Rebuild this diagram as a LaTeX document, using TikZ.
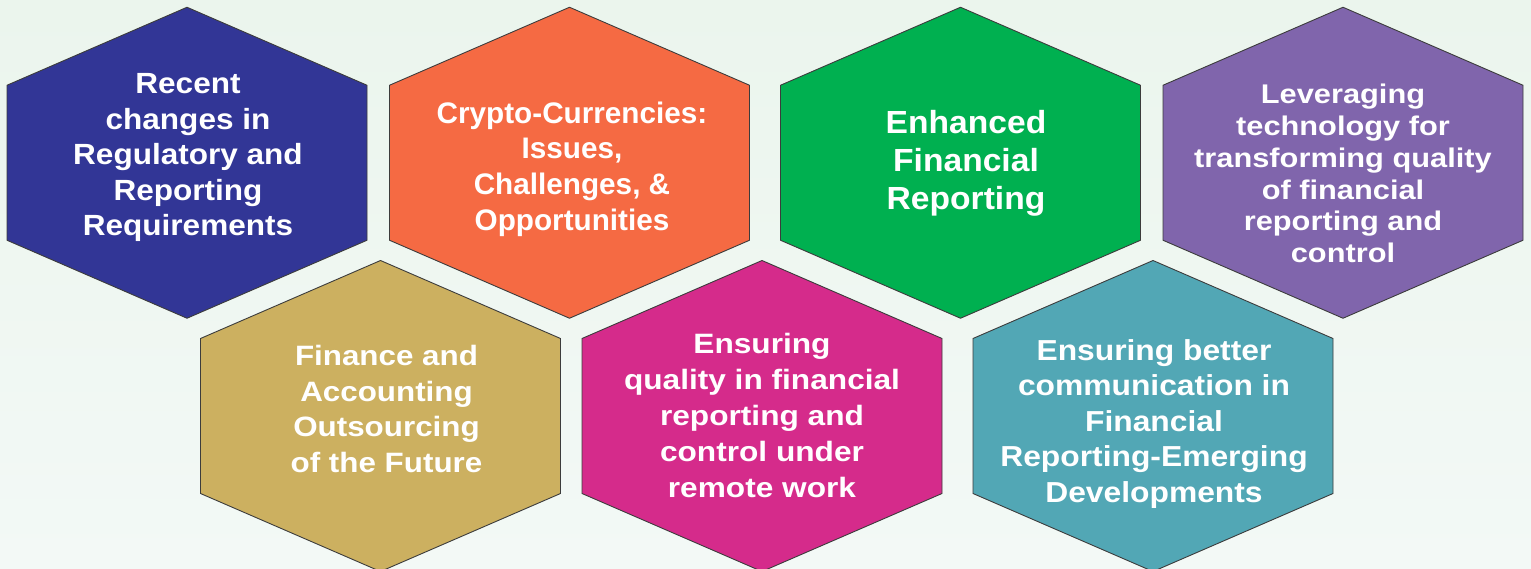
\documentclass[tikz,border=0pt]{standalone}
\usepackage{fontspec}
\setmainfont{Liberation Sans}
\newfontfamily\fblue{Liberation Sans}[FakeStretch=1.08]
\newfontfamily\forange{Liberation Sans}[FakeStretch=1.0]
\newfontfamily\fgreen{Liberation Sans}[FakeStretch=1.05]
\newfontfamily\fpurple{Liberation Sans}[FakeStretch=1.14]
\newfontfamily\fgold{Liberation Sans}[FakeStretch=1.12]
\newfontfamily\fmag{Liberation Sans}[FakeStretch=1.13]
\newfontfamily\fteal{Liberation Sans}[FakeStretch=1.10]
\definecolor{bgtop}{RGB}{235,245,237}
\definecolor{bgbot}{RGB}{243,249,246}
\definecolor{hexline}{RGB}{60,60,60}
\definecolor{cblue}{RGB}{50,54,150}
\definecolor{corange}{RGB}{245,106,67}
\definecolor{cgreen}{RGB}{0,176,80}
\definecolor{cpurple}{RGB}{128,101,172}
\definecolor{cgold}{RGB}{204,176,96}
\definecolor{cmag}{RGB}{213,43,139}
\definecolor{cteal}{RGB}{82,167,181}
\tikzset{
  hexa/.style={draw=hexline, line width=0.9pt, line join=miter},
  hextext/.style={text=white, align=center, inner sep=0pt, anchor=center},
}
\newcommand\hexshape[3]{%
  \filldraw[hexa, fill=#3] (#1,{#2-155.5}) -- ({#1+180},{#2-77.5}) -- ({#1+180},{#2+77.5})
    -- (#1,{#2+155.5}) -- ({#1-180},{#2+77.5}) -- ({#1-180},{#2-77.5}) -- cycle;}
\begin{document}
\begin{tikzpicture}[x=1pt,y=-1pt]
\useasboundingbox (0,0) rectangle (1531,569);
\shade[top color=bgtop, bottom color=bgbot] (0,0) rectangle (1531,569);
\hexshape{187}{162.75}{cblue}
\hexshape{569.5}{162.75}{corange}
\hexshape{960.5}{162.75}{cgreen}
\hexshape{1343}{162.75}{cpurple}
\hexshape{380.5}{416}{cgold}
\hexshape{762}{416}{cmag}
\hexshape{1153}{416}{cteal}
\node[hextext, font={\fblue\bfseries\fontsize{29.2}{35.5}\selectfont}] (n1) at (188,157.5)
  {Recent\\changes in\\Regulatory and\\Reporting\\Requirements};
\node[hextext, font={\forange\bfseries\fontsize{29.7}{35.7}\selectfont}] (n2) at (572,169)
  {Crypto-Currencies:\\Issues,\\Challenges, \&\\Opportunities};
\node[hextext, font={\fgreen\bfseries\fontsize{32}{38}\selectfont}] (n3) at (966,163)
  {Enhanced\\Financial\\Reporting};
\node[hextext, font={\fpurple\bfseries\fontsize{27}{31.8}\selectfont}] (n4) at (1343,173.5)
  {Leveraging\\technology for\\transforming quality\\of financial\\reporting and\\control};
\node[hextext, font={\fgold\bfseries\fontsize{28}{35.5}\selectfont}] (n5) at (386.5,409)
  {Finance and\\Accounting\\Outsourcing\\of the Future};
\node[hextext, font={\fmag\bfseries\fontsize{28}{36}\selectfont}] (n6) at (762,415)
  {Ensuring\\quality in financial\\reporting and\\control under\\remote work};
\node[hextext, font={\fteal\bfseries\fontsize{28.9}{35.5}\selectfont}] (n7) at (1154,424)
  {Ensuring better\\communication in\\Financial\\Reporting-Emerging\\Developments};
\end{tikzpicture}
\end{document}
